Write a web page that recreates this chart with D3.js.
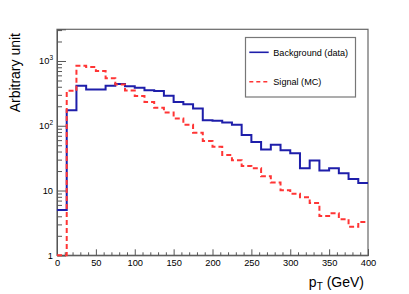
<!DOCTYPE html>
<html>
<head>
<meta charset="utf-8">
<script src="https://cdn.jsdelivr.net/npm/d3@7"></script>
<style>
body { margin:0; background:#fff; }
text { font-family:'Liberation Sans',Arial,Helvetica,sans-serif; fill:#000; }
</style>
</head>
<body>
<script>
// bin lower edges (GeV), 12.5 GeV wide bins
var binLow = [0,12.5,25,37.5,50,62.5,75,87.5,100,112.5,125,137.5,150,162.5,175,187.5,
			  200,212.5,225,237.5,250,262.5,275,287.5,300,312.5,325,337.5,350,362.5,375,387.5];
var binHigh = 400;

var background = [5.0,174,414,362,362,414,440,409,385,352,345,290,232,215,184,122,
				  120,112,104,72,56,43,51,42,37.5,22,29,20.3,22,18.5,15.1,13.1];
var signal = [0,346,845,810,700,540,435,350,288,232,189,160,130,104,78,58,
			  47.5,35.5,29.4,24,22,16.6,13.3,10.1,8.95,7.9,6.4,4.05,4.45,3.6,2.76,3.27];

var seriesNames = ['Background (data)','Signal (MC)'];
var xMajorTicks = [0,50,100,150,200,250,300,350,400];
var yMajorTicks = [1,10,100,1000];
var yTickLabels = [{base:'1',exp:''},{base:'10',exp:''},{base:'10',exp:'2'},{base:'10',exp:'3'}];

var width = 409, height = 294;
var frameLeft = 57, frameRight = 368, frameTop = 29.3, frameBottom = 255.3;

var svg = d3.select('body').append('svg').attr('width',width).attr('height',height);

var xScale = d3.scaleLinear().domain([0,400]).range([frameLeft,frameRight]);
var yScale = d3.scaleLog().domain([1,3085]).range([frameBottom,frameTop]).clamp(true);

function stepPoints(values) {
	var pts = values.map(function(v,i){return [binLow[i],v];});
	pts.push([binHigh,values[values.length-1]]);
	return pts;
}

var line = d3.line()
	.x(function(d){return xScale(d[0]);})
	.y(function(d){return yScale(Math.max(d[1],1));})
	.curve(d3.curveStepAfter);

//Frame
svg.append('rect')
	.attr('x',frameLeft).attr('y',frameTop)
	.attr('width',frameRight-frameLeft).attr('height',frameBottom-frameTop)
	.attr('fill','none').attr('stroke','#666').attr('stroke-width',1.2);

//Axes (ticks pointing inward)
var xMinor = d3.range(0,401,10).filter(function(d){return d%50 !== 0;});
svg.append('g').attr('transform','translate(0,'+frameBottom+')')
	.call(d3.axisBottom(xScale).tickValues(xMinor).tickSize(-3).tickFormat(''))
	.call(function(g){g.select('.domain').remove(); g.selectAll('line').attr('stroke','#555');});
var xAxisG = svg.append('g').attr('transform','translate(0,'+frameBottom+')')
	.call(d3.axisBottom(xScale).tickValues(xMajorTicks).tickSize(-6).tickPadding(4))
	.call(function(g){g.select('.domain').attr('stroke','#555');g.selectAll('line').attr('stroke','#555');});
xAxisG.selectAll('text').attr('font-size',9.3).attr('font-family',"'Liberation Sans',Arial,sans-serif").attr('fill','#000');

var yMinor = [];
[1,10,100,1000].forEach(function(dec){
	for (var k=2;k<=9;k++) if (dec*k <= 3085) yMinor.push(dec*k);
});
svg.append('g').attr('transform','translate('+frameLeft+',0)')
	.call(d3.axisLeft(yScale).tickValues(yMinor).tickSize(-5).tickFormat(''))
	.call(function(g){g.select('.domain').remove(); g.selectAll('line').attr('stroke','#555');});
svg.append('g').attr('transform','translate('+frameLeft+',0)')
	.call(d3.axisLeft(yScale).tickValues(yMajorTicks).tickSize(-9).tickFormat(''))
	.call(function(g){g.select('.domain').attr('stroke','#555');g.selectAll('line').attr('stroke','#555');});

var yLabels = svg.append('g').selectAll('text').data(yMajorTicks).enter()
	.append('text')
	.attr('x',frameLeft-4)
	.attr('y',function(d){return yScale(d)+3.3;})
	.attr('text-anchor','end')
	.attr('font-size',9.3);
yLabels.append('tspan').text(function(d,i){return yTickLabels[i].base;});
yLabels.append('tspan').attr('dy',-4).attr('font-size',6.5).text(function(d,i){return yTickLabels[i].exp;});

//Histograms
svg.append('path').datum(stepPoints(background))
	.attr('d',line).attr('fill','none')
	.attr('stroke','#1e1eaa').attr('stroke-width',2);
svg.append('path').datum(stepPoints(signal))
	.attr('d',line).attr('fill','none')
	.attr('stroke','#ff3535').attr('stroke-width',2)
	.attr('stroke-dasharray','5,3');

//Titles
var xTitle = svg.append('text').attr('x',364).attr('y',287).attr('text-anchor','end').attr('font-size',14);
xTitle.append('tspan').text('p');
xTitle.append('tspan').attr('dy',3).attr('font-size',10).text('T');
xTitle.append('tspan').attr('dy',-3).text(' (GeV)');

svg.append('text')
	.attr('transform','translate(20,33) rotate(-90)')
	.attr('text-anchor','end').attr('font-size',14)
	.text('Arbitrary unit');

//Legend
var legendG = svg.append('g').attr('id','legend');
legendG.append('rect').attr('x',245.5).attr('y',37.5).attr('width',110).attr('height',59.5)
	.attr('fill','#fff').attr('stroke','#777').attr('stroke-width',1.2);
var legendStyles = [{color:'#1e1eaa',dash:null},{color:'#ff3535',dash:'4,3'}];
legendG.selectAll('line').data(seriesNames).enter().append('line')
	.attr('x1',249.3).attr('x2',268.7)
	.attr('y1',function(d,i){return 52.3+i*29.4;})
	.attr('y2',function(d,i){return 52.3+i*29.4;})
	.attr('stroke',function(d,i){return legendStyles[i].color;})
	.attr('stroke-width',1.6)
	.attr('stroke-dasharray',function(d,i){return legendStyles[i].dash;});
legendG.selectAll('text').data(seriesNames).enter().append('text')
	.attr('x',273.3)
	.attr('y',function(d,i){return 55.6+i*29.4;})
	.attr('font-size',9.1)
	.text(function(d){return d;});
</script>
</body>
</html>
